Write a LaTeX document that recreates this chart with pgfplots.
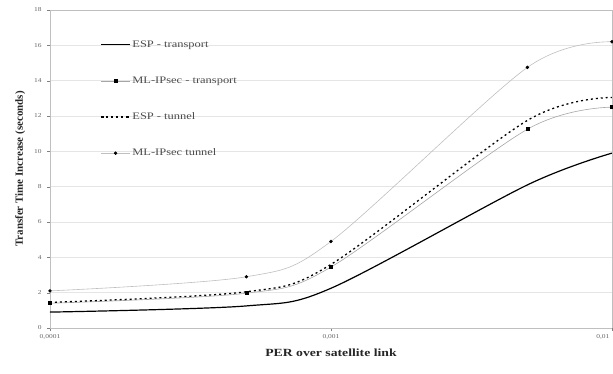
\documentclass[border=0pt]{standalone}
\usepackage{pgfplots}
\pgfplotsset{compat=1.18}
\usetikzlibrary{calc}
\usepackage{fontspec}
\setmainfont{Liberation Serif}
\newfontfamily\wide{Liberation Serif}[FakeStretch=1.25]
\begin{document}
\begin{tikzpicture}
\begin{axis}[
  scale only axis,
  width=562bp, height=318bp,
  xmode=log, xmin=1e-4, xmax=1e-2,
  ymin=0, ymax=18,
  xtick={1e-4,1e-3},
  xticklabels={0{,}0001,0{,}001},
  extra x ticks={1e-2},
  extra x tick labels={0{,}01},
  extra x tick style={xticklabel style={anchor=north east, xshift=1pt}},
  ytick={0,2,...,18},
  xminorticks=false,
  /pgf/number format/assume math mode=true,
  tick label style={font=\wide\fontsize{6}{7}\selectfont, text=gray!80!black},
  tick align=outside,
  tick style={gray, major tick length=3pt},
  xtick pos=bottom, ytick pos=left,
  axis line style={gray!50},
  ymajorgrids,
  grid style={gray!20},
  xlabel={\textbf{PER over satellite link}},
  ylabel={\textbf{Transfer Time Increase (seconds)}},
  xlabel style={font=\wide\fontsize{11}{12}\selectfont, text=black!85, yshift=3pt},
  ylabel style={font=\fontsize{11}{12}\selectfont, text=black!85, yshift=2pt},
  yticklabel style={xshift=-2pt},
  legend style={at={(0.09,0.91)}, anchor=north west, draw=none, fill=none,
    font=\wide\fontsize{10}{11}\selectfont, row sep=24pt, text=gray!60!black,
    inner sep=0pt},
  legend image code/.code={\draw[mark repeat=2,mark phase=2] plot coordinates {(0cm,0cm) (0.5cm,0cm) (1cm,0cm)};},
  legend cell align=left,
  every axis plot/.append style={smooth, tension=0.5},
]
\addplot[black, line width=1.2pt] coordinates {
  (0.0001,0.9) (0.0005,1.25) (0.001,2.25) (0.005,8.1) (0.01,9.9)};
\addlegendentry{ESP - transport}
\addplot[gray!70, line width=0.6pt, mark=square*, mark size=1.5pt, mark options={black}] coordinates {
  (0.0001,1.4) (0.0005,1.97) (0.001,3.45) (0.005,11.25) (0.01,12.5)};
\addlegendentry{ML-IPsec - transport}
\addplot[black, line width=1.3pt, dash pattern=on 2pt off 3pt] coordinates {
  (0.0001,1.45) (0.0005,2.05) (0.001,3.6) (0.005,11.75) (0.01,13.05)};
\addlegendentry{ESP - tunnel}
\addplot[gray!50, line width=0.6pt, mark=*, mark size=1.4pt, mark options={black}] coordinates {
  (0.0001,2.1) (0.0005,2.9) (0.001,4.9) (0.005,14.75) (0.01,16.2)};
\addlegendentry{ML-IPsec tunnel}
\end{axis}
\pgfresetboundingbox
\path ($(current axis.south west)+(-50bp,-46bp)$) rectangle ($(current axis.north east)+(1bp,10bp)$);
\end{tikzpicture}
\end{document}
